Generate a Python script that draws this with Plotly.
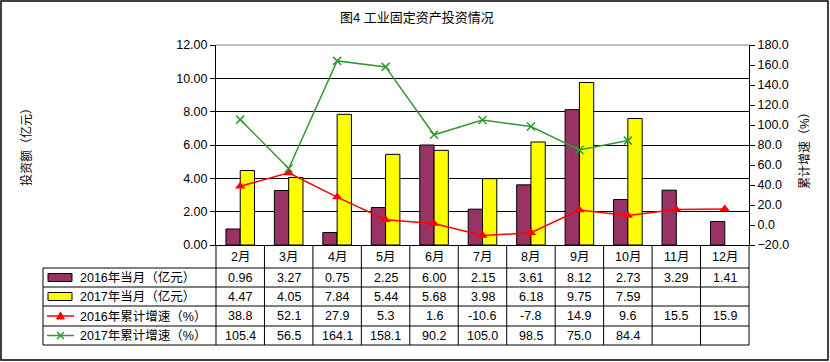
import plotly.graph_objects as go

months = ["2月", "3月", "4月", "5月", "6月", "7月", "8月", "9月", "10月", "11月", "12月"]
m2016 = [0.96, 3.27, 0.75, 2.25, 6.00, 2.15, 3.61, 8.12, 2.73, 3.29, 1.41]
m2017 = [4.47, 4.05, 7.84, 5.44, 5.68, 3.98, 6.18, 9.75, 7.59, None, None]
g2016 = [38.8, 52.1, 27.9, 5.3, 1.6, -10.6, -7.8, 14.9, 9.6, 15.5, 15.9]
g2017 = [105.4, 56.5, 164.1, 158.1, 90.2, 105.0, 98.5, 75.0, 84.4, None, None]

names = ["2016年当月（亿元）", "2017年当月（亿元）", "2016年累计增速（%）", "2017年累计增速（%）"]
C_PURPLE = "#993366"
C_YELLOW = "#FFFF00"
C_RED = "#FF0000"
C_GREEN = "#339933"
FONT = "Liberation Sans, Noto Sans CJK SC, sans-serif"

W, H = 830, 362
def px(x): return x / W
def py(y): return 1 - y / H

L, R, T, B = 216, 749, 45, 245

fig = go.Figure()
fig.add_trace(go.Bar(x=months, y=m2016, name=names[0], marker=dict(color=C_PURPLE, line=dict(color="black", width=1))))
fig.add_trace(go.Bar(x=months, y=m2017, name=names[1], marker=dict(color=C_YELLOW, line=dict(color="black", width=1))))
fig.add_trace(go.Scatter(x=months, y=g2016, name=names[2], yaxis="y2", mode="lines+markers",
                         line=dict(color=C_RED, width=1.5), marker=dict(symbol="triangle-up", size=9, color=C_RED)))
fig.add_trace(go.Scatter(x=months, y=g2017, name=names[3], yaxis="y2", mode="lines+markers",
                         line=dict(color=C_GREEN, width=1.5), marker=dict(symbol="x-thin", size=8, line=dict(color=C_GREEN, width=1.5))))

shapes = []
ann = []
def hline(x0, x1, y, color="black", width=1):
    shapes.append(dict(type="line", xref="paper", yref="paper", x0=px(x0), x1=px(x1), y0=py(y), y1=py(y), line=dict(color=color, width=width)))
def vline(x, y0, y1):
    shapes.append(dict(type="line", xref="paper", yref="paper", x0=px(x), x1=px(x), y0=py(y0), y1=py(y1), line=dict(color="black", width=1)))
def text(x, y, t, anchor="center", angle=0, size=12):
    ann.append(dict(x=px(x), y=py(y), xref="paper", yref="paper", text=t, showarrow=False, xanchor=anchor, yanchor="middle",
                    textangle=angle, font=dict(size=size, color="black", family=FONT)))

# top border gray
hline(L, R, T, "#808080")
# table rows
rows_y = [268, 287, 306, 326, 345]
for yy in rows_y:
    hline(43, R, yy)
vline(43, 268, 345)
vline(L, B, 345)
n = len(months)
cw = (R - L) / n
for k in range(1, n + 1):
    vline(L + k * cw, B, 345)
# outer border
shapes.append(dict(type="rect", xref="paper", yref="paper", x0=px(1), x1=px(828), y0=py(1), y1=py(360), line=dict(color="black", width=1.5)))

# month header
for i, m in enumerate(months):
    text(L + (i + 0.5) * cw, 256.5, m, size=12.5)

series = [(m2016, "{:.2f}"), (m2017, "{:.2f}"), (g2016, "{:.1f}"), (g2017, "{:.1f}")]
row_c = [277.5, 296.5, 316, 335.5]
for r, (vals, fmt) in enumerate(series):
    for i, v in enumerate(vals):
        if v is None:
            continue
        text(L + (i + 0.5) * cw, row_c[r], fmt.format(v), size=12.5)
    text(78, row_c[r], names[r], anchor="left", size=12.5)

# legend symbols
for r, col in enumerate([C_PURPLE, C_YELLOW]):
    shapes.append(dict(type="rect", xref="paper", yref="paper", x0=px(48), x1=px(72), y0=py(row_c[r] - 4), y1=py(row_c[r] + 4), fillcolor=col, line=dict(color="black", width=1)))
hline(47, 74, row_c[2], C_RED, 1.5)
hline(47, 74, row_c[3], C_GREEN, 1.5)
cx, cy = 60.5, row_c[2]
shapes.append(dict(type="path", xref="paper", yref="paper",
                   path=f"M {px(cx-4)},{py(cy+3)} L {px(cx+4)},{py(cy+3)} L {px(cx)},{py(cy-4)} Z",
                   fillcolor=C_RED, line=dict(color=C_RED, width=1)))
cx, cy = 60.5, row_c[3]
shapes.append(dict(type="path", xref="paper", yref="paper",
                   path=f"M {px(cx-3.5)},{py(cy-3.5)} L {px(cx+3.5)},{py(cy+3.5)} M {px(cx-3.5)},{py(cy+3.5)} L {px(cx+3.5)},{py(cy-3.5)}",
                   line=dict(color=C_GREEN, width=1.5)))

# title and axis titles
text(417, 18, "图4 工业固定资产投资情况", size=13)
text(26, 144, "投资额（亿元）", angle=-90)
text(805, 148, "累计增速（%）", angle=-90)

fig.update_layout(
    width=W, height=H, margin=dict(l=0, r=0, t=0, b=0, pad=0, autoexpand=False),
    paper_bgcolor="white", plot_bgcolor="white",
    showlegend=False, barmode="group", bargap=0.41, bargroupgap=0,
    font=dict(family=FONT, size=12, color="black"),
    xaxis=dict(domain=[px(L), px(R)], range=[-0.5, n - 0.5], showticklabels=False, ticks="", showline=True, linecolor="black", linewidth=1, showgrid=False, zeroline=False),
    yaxis=dict(domain=[py(B), py(T)], range=[0, 12], dtick=2, tickformat=".2f", ticks="outside", ticklen=5, tickcolor="black",
               showline=True, linecolor="black", linewidth=1, showgrid=True, gridcolor="black", gridwidth=1, zeroline=False,
               tickfont=dict(size=12.5, family=FONT)),
    yaxis2=dict(overlaying="y", side="right", anchor="x", range=[-20, 180], dtick=20, tickformat=".1f", ticks="outside", ticklen=5, tickcolor="black",
                showline=True, linecolor="black", linewidth=1, showgrid=False, zeroline=False, tickfont=dict(size=12.5, family=FONT)),
    shapes=shapes, annotations=ann,
)
fig.write_html("out.html")
